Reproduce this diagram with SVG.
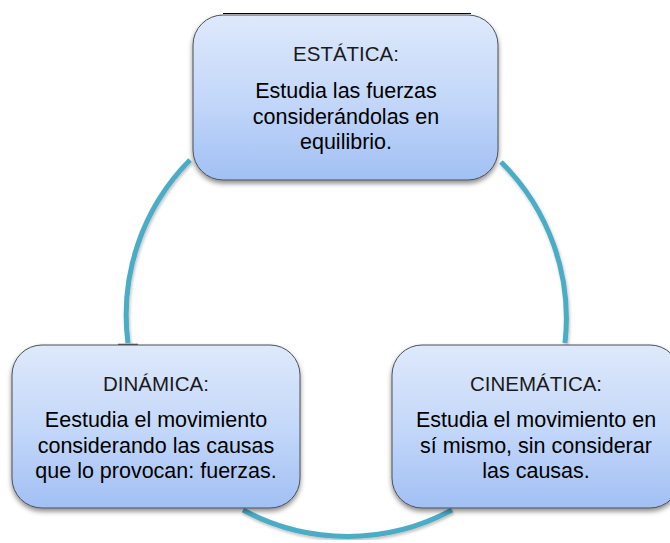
<svg xmlns="http://www.w3.org/2000/svg" width="670" height="543" viewBox="0 0 670 543">
<defs>
<linearGradient id="boxGrad" x1="0" y1="0" x2="0" y2="1">
<stop offset="0" stop-color="#dee9fb"/>
<stop offset="0.5" stop-color="#c4d8f9"/>
<stop offset="1" stop-color="#a2c0f4"/>
</linearGradient>
<filter id="shadow" x="-10%" y="-10%" width="120%" height="130%">
<feDropShadow dx="0" dy="3" stdDeviation="2.5" flood-color="#000" flood-opacity="0.45"/>
</filter>
<filter id="lshadow" x="-10%" y="-10%" width="120%" height="120%">
<feDropShadow dx="1" dy="2" stdDeviation="1.5" flood-color="#000" flood-opacity="0.25"/>
</filter>
</defs>
<style>
.box{fill:url(#boxGrad);stroke:#4a4f57;stroke-width:1;filter:url(#shadow)}
.title{font-family:"Liberation Sans",Arial,sans-serif;font-size:20.5px;fill:#1a1a1a;text-anchor:middle}
.body{font-family:"Liberation Sans",Arial,sans-serif;font-size:21.5px;fill:#000;text-anchor:middle}
.arc{fill:none;stroke:#4bacc6;stroke-width:5;filter:url(#lshadow)}
</style>
<line x1="223" y1="13.5" x2="471" y2="13.5" stroke="#000" stroke-width="1.2"/>
<g id="connectors">
<path class="arc" d="M190,160 A220,220 0 0 0 128,343"/>
<path class="arc" d="M501,162 A220,220 0 0 1 565,343"/>
<path class="arc" d="M243,510 A220,220 0 0 0 452,510"/>
<line x1="118" y1="344.5" x2="138" y2="344.5" stroke="#555" stroke-width="1.5"/>
</g>
<g id="estatica">
<rect class="box" x="193" y="15" width="305" height="165" rx="30" ry="30"/>
<text class="title" x="346" y="61">ESTÁTICA:</text>
<text class="body" x="346" y="98">Estudia las fuerzas</text>
<text class="body" x="346" y="123.5">considerándolas en</text>
<text class="body" x="346" y="149">equilibrio.</text>
</g>
<g id="dinamica">
<rect class="box" x="12" y="345" width="288" height="163" rx="30" ry="30"/>
<text class="title" x="156" y="391">DINÁMICA:</text>
<text class="body" x="156" y="427">Eestudia el movimiento</text>
<text class="body" x="156" y="452.5">considerando las causas</text>
<text class="body" x="156" y="478">que lo provocan: fuerzas.</text>
</g>
<g id="cinematica">
<rect class="box" x="392" y="345" width="288" height="163" rx="30" ry="30"/>
<text class="title" x="536" y="391">CINEMÁTICA:</text>
<text class="body" x="536" y="427">Estudia el movimiento en</text>
<text class="body" x="536" y="452.5">sí mismo, sin considerar</text>
<text class="body" x="536" y="478">las causas.</text>
</g>
</svg>
